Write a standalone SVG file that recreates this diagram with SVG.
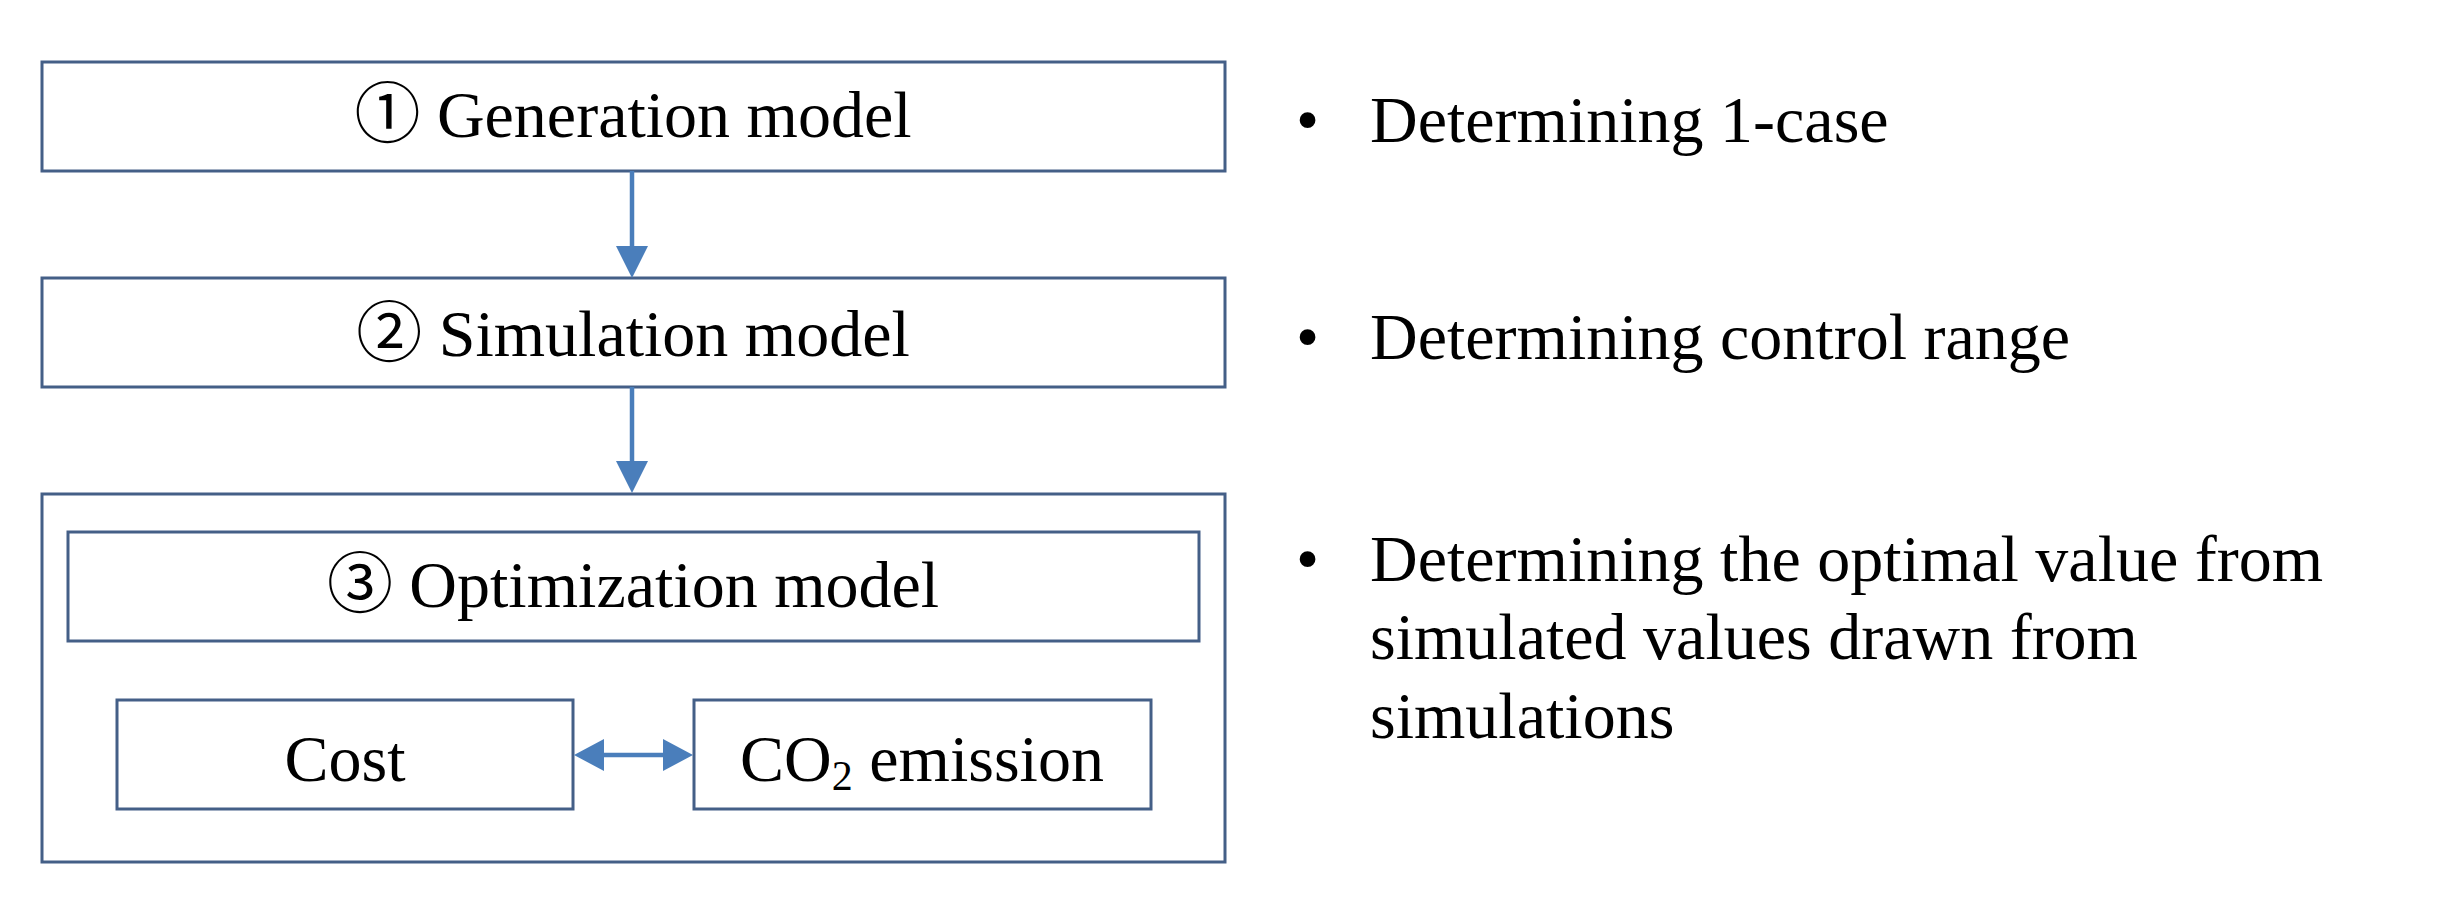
<svg xmlns="http://www.w3.org/2000/svg" width="2460" height="920" viewBox="0 0 2460 920">
<style>
.box{fill:#ffffff;stroke:#445f87;stroke-width:3}
.lbl{font-family:"Liberation Serif","Noto Sans CJK JP",serif;font-size:66px;fill:#000000}
.mid{text-anchor:middle}
.conn{stroke:#4a7ebb;stroke-width:4.5;fill:none}
.head{fill:#4a7ebb;stroke:none}
</style>
<rect width="2460" height="920" fill="#ffffff"/>
<g id="generation">
  <rect class="box" x="42" y="62" width="1183" height="109"/>
  <text class="lbl mid" x="633" y="137">① Generation model</text>
</g>
<g id="simulation">
  <rect class="box" x="42" y="278" width="1183" height="109"/>
  <text class="lbl mid" x="633" y="356">② Simulation model</text>
</g>
<g id="optimization-group">
  <rect class="box" x="42" y="494" width="1183" height="368"/>
</g>
<g id="optimization">
  <rect class="box" x="68" y="532" width="1131" height="109"/>
  <text class="lbl mid" x="633" y="607">③ Optimization model</text>
</g>
<g id="cost">
  <rect class="box" x="117" y="700" width="456" height="109"/>
  <text class="lbl mid" x="345" y="781">Cost</text>
</g>
<g id="co2">
  <rect class="box" x="694" y="700" width="457" height="109"/>
  <text class="lbl mid" x="922" y="781">CO<tspan font-size="42" dy="9">2</tspan><tspan dy="-9"> emission</tspan></text>
</g>
<g id="connectors">
  <line class="conn" x1="632" y1="171" x2="632" y2="248"/>
  <polygon class="head" points="616,246 648,246 632,278"/>
  <line class="conn" x1="632" y1="387" x2="632" y2="463"/>
  <polygon class="head" points="616,461 648,461 632,493"/>
  <line class="conn" x1="600" y1="755" x2="666" y2="755"/>
  <polygon class="head" points="574,755 604,739 604,771"/>
  <polygon class="head" points="693,755 663,739 663,771"/>
</g>
<g id="notes">
  <text class="lbl" x="1296" y="142">•</text>
  <text class="lbl" x="1370" y="142">Determining 1-case</text>
  <text class="lbl" x="1296" y="359">•</text>
  <text class="lbl" x="1370" y="359">Determining control range</text>
  <text class="lbl" x="1296" y="581">•</text>
  <text class="lbl" x="1370" y="581">Determining the optimal value from</text>
  <text class="lbl" x="1370" y="659">simulated values drawn from</text>
  <text class="lbl" x="1370" y="738">simulations</text>
</g>
</svg>
